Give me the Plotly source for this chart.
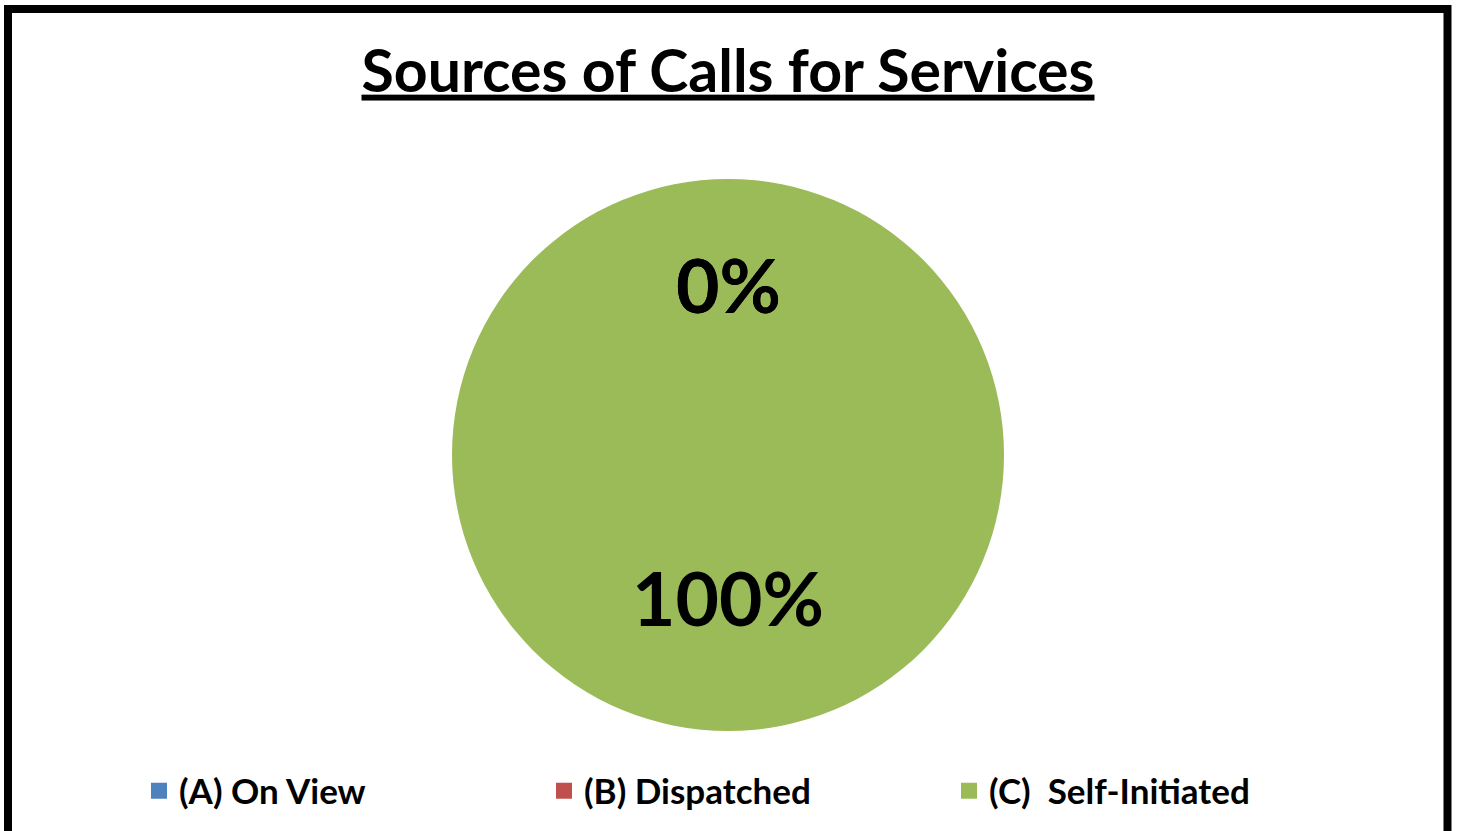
import math
import plotly.graph_objects as go

# ---- data ----
categories = ["(A) On View", "(B) Dispatched", "(C)  Self-Initiated"]
values = [0, 0, 100]
colors = ["#4F81BD", "#C0504D", "#9BBB59"]
title_text = "Sources of Calls for Services"

W, H = 1457, 831

mt = 179
mb = H - 731
ml, mr = 0, 1
plot_h = H - mt - mb
plot_w = W - ml - mr


def px_x(x):
    return (x - ml) / plot_w


def py(y):
    # reference pixel y -> paper y
    return (plot_h - (y - mt)) / plot_h


fig = go.Figure()
fig.add_trace(go.Pie(
    labels=categories,
    values=values,
    marker=dict(colors=colors, line=dict(width=0)),
    sort=False,
    direction="clockwise",
    rotation=0,
    textinfo="none",
    hoverinfo="label+percent",
    showlegend=False,
))

# legend entries (square keys) for each category
for cat, col in zip(categories, colors):
    fig.add_trace(go.Scatter(
        x=[None], y=[None], mode="markers", name=cat,
        marker=dict(symbol="square", size=21, color=col, line=dict(width=0)),
        hoverinfo="skip",
    ))

# percentage labels at mid-angle of each slice (clockwise from 12 o'clock)
total = sum(values)
cum = 0.0
annotations = []
radius_px = plot_h / 2
for v in values:
    frac = v / total
    mid = (cum + frac / 2) * 2 * math.pi
    cum += frac
    rf = 0.62 if frac == 0 else 0.515
    dx = math.sin(mid) * rf * radius_px
    dy = math.cos(mid) * rf * radius_px
    annotations.append(dict(
        x=0.5 + dx / plot_w, y=0.5 + dy / plot_h, xref="paper", yref="paper",
        text=f"<b>{round(frac * 100)}%</b>", showarrow=False,
        font=dict(family="Lato", size=75, color="black"),
        xanchor="center", yanchor="middle",
    ))

fig.update_layout(
    width=W, height=H,
    margin=dict(l=ml, r=mr, t=mt, b=mb),
    paper_bgcolor="white",
    plot_bgcolor="white",
    xaxis=dict(visible=False),
    yaxis=dict(visible=False),
    title=dict(
        text=f"<b><u>{title_text}</u></b>",
        x=0.5, xanchor="center", xref="paper",
        y=1 - 71 / H, yanchor="middle", yref="container",
        font=dict(family="Lato", size=59, color="black"),
    ),
    legend=dict(
        orientation="h",
        x=px_x(139), xanchor="left",
        y=py(791), yanchor="middle",
        entrywidth=360, entrywidthmode="pixels",
        font=dict(family="Lato", size=35, color="black", weight="bold"),
        bgcolor="rgba(0,0,0,0)",
    ),
    annotations=annotations,
    shapes=[dict(
        type="rect", xref="paper", yref="paper",
        x0=px_x(8), x1=px_x(1447.5),
        y0=py(880), y1=py(9),
        line=dict(color="black", width=8), fillcolor="rgba(0,0,0,0)",
    )],
)

fig.write_html(
    "out.html",
    config={"displayModeBar": False},
    post_script="document.body.style.margin='0';document.body.style.overflow='hidden';",
)
